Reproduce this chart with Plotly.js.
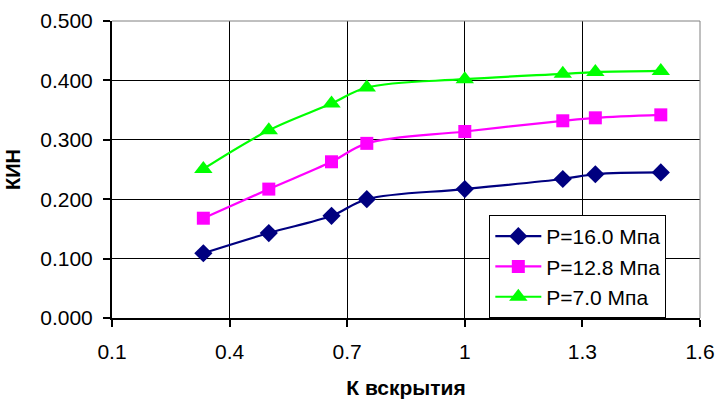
<!DOCTYPE html>
<html>
<head>
<meta charset="utf-8">
<script src="https://cdn.plot.ly/plotly-3.0.1.min.js"></script>
<style>html,body{margin:0;padding:0;background:#fff;}#chart{width:718px;height:399px;}</style>
</head>
<body>
<div id="chart"></div>
<script>
const kOpen = [0.333, 0.5, 0.66, 0.75, 1.0, 1.25, 1.333, 1.5];
const kin160 = [0.109, 0.143, 0.172, 0.200, 0.217, 0.234, 0.242, 0.245];
const kin128 = [0.168, 0.217, 0.263, 0.294, 0.314, 0.332, 0.337, 0.342];
const kin70 = [0.251, 0.316, 0.361, 0.388, 0.402, 0.411, 0.414, 0.416];
const seriesNames = ["P=16.0 Мпа", "P=12.8 Мпа", "P=7.0 Мпа"];
const xTicks = [0.1, 0.4, 0.7, 1.0, 1.3, 1.6];
const xTickText = ["0.1", "0.4", "0.7", "1", "1.3", "1.6"];
const yTicks = [0, 0.1, 0.2, 0.3, 0.4, 0.5];
const xTitle = "К вскрытия";
const yTitle = "КИН";

const FONT = "Arial, 'Liberation Sans', sans-serif";

function tr(y, name, color, symbol, size) {
  return {
    x: kOpen, y: y, name: name, type: 'scatter', mode: 'lines+markers',
    line: {color: color, width: 2.2, shape: 'spline', smoothing: 1},
    marker: {color: color, symbol: symbol, size: size, line: {width: 0}},
    hoverinfo: 'skip'
  };
}

const data = [
  tr(kin160, seriesNames[0], '#000080', 'diamond', 14),
  tr(kin128, seriesNames[1], '#FF00FF', 'square', 13),
  tr(kin70, seriesNames[2], '#00FF00', 'triangle-up', 16)
];

const layout = {
  width: 718, height: 399,
  margin: {l: 112, r: 18, t: 21, b: 81, pad: 0},
  paper_bgcolor: '#ffffff', plot_bgcolor: '#ffffff',
  font: {family: FONT, size: 21, color: '#000'},
  showlegend: true,
  legend: {
    x: 0.6417, y: 0, xanchor: 'left', yanchor: 'bottom',
    bgcolor: '#ffffff', bordercolor: '#000', borderwidth: 1,
    font: {family: FONT, size: 21, color: '#000'},
    itemwidth: 46, tracegroupgap: 0
  },
  xaxis: {
    range: [0.1, 1.6], tickmode: 'array', tickvals: xTicks, ticktext: xTickText,
    showgrid: true, gridcolor: '#000', gridwidth: 1,
    showline: true, linecolor: '#000', linewidth: 2, mirror: false,
    ticks: 'outside', ticklen: 7, tickwidth: 2, tickcolor: '#000',
    ticklabelstandoff: 7,
    zeroline: false,
    tickfont: {family: FONT, size: 21, color: '#000'},
    title: {text: xTitle, font: {family: FONT, size: 21, color: '#000', weight: 'bold'}, standoff: 18},
    automargin: false
  },
  yaxis: {
    range: [0, 0.5], tickmode: 'array', tickvals: yTicks, tickformat: '.3f',
    showgrid: true, gridcolor: '#000', gridwidth: 1,
    showline: true, linecolor: '#000', linewidth: 2, mirror: false,
    ticks: 'outside', ticklen: 7, tickwidth: 2, tickcolor: '#000',
    ticklabelstandoff: 6,
    zeroline: false,
    tickfont: {family: FONT, size: 21, color: '#000'},
    title: {text: yTitle, font: {family: FONT, size: 20, color: '#000', weight: 'bold'}, standoff: 14},
    automargin: false
  },
  shapes: [
    {type: 'line', xref: 'paper', yref: 'paper', x0: 0, x1: 1, y0: 1, y1: 1, line: {color: '#808080', width: 1}},
    {type: 'line', xref: 'paper', yref: 'paper', x0: 1, x1: 1, y0: 0, y1: 1, line: {color: '#808080', width: 1}}
  ]
};

Plotly.newPlot('chart', data, layout, {displayModeBar: false, staticPlot: true});
</script>
</body>
</html>
